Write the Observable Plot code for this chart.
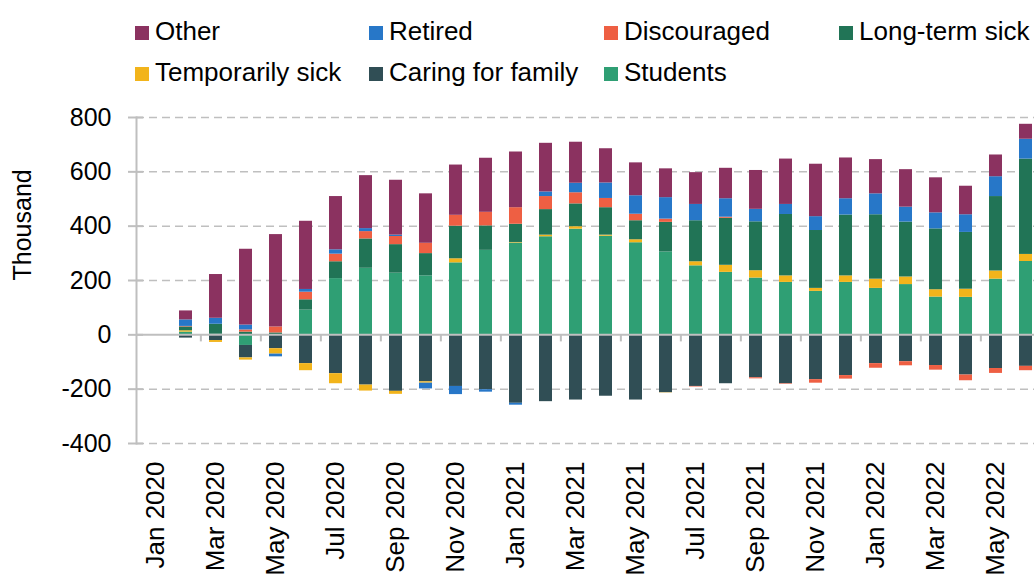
<!DOCTYPE html>
<html>
<head>
<meta charset="utf-8">
<script src="https://cdn.jsdelivr.net/npm/d3@7"></script>
<script src="https://cdn.jsdelivr.net/npm/@observablehq/plot@0.6"></script>
<style>
  html, body { margin: 0; padding: 0; background: #fff; overflow: hidden; }
  #wrap { position: relative; width: 1034px; height: 574px; overflow: hidden; font-family: "Liberation Sans", Arial, sans-serif; }
  #chart { position: absolute; left: 0; top: 0; }
  #chart svg { max-width: none !important; }
  .lg { position: absolute; font-size: 26px; line-height: 26px; color: #000; white-space: nowrap; }
  .sw { position: absolute; width: 14px; height: 14px; }
</style>
</head>
<body>
<div id="wrap"><div id="chart"></div></div>
<script>
const months = ["Jan 2020","Feb 2020","Mar 2020","Apr 2020","May 2020","Jun 2020","Jul 2020","Aug 2020","Sep 2020","Oct 2020","Nov 2020","Dec 2020",
  "Jan 2021","Feb 2021","Mar 2021","Apr 2021","May 2021","Jun 2021","Jul 2021","Aug 2021","Sep 2021","Oct 2021","Nov 2021","Dec 2021",
  "Jan 2022","Feb 2022","Mar 2022","Apr 2022","May 2022","Jun 2022"];
const seriesNames = ["Students","Caring for family","Temporarily sick","Long-term sick","Discouraged","Retired","Other"];
const seriesColors = ["#2f9f74","#304e55","#f2b41b","#217456","#ee5f43","#2777c8","#8b3260"];
const legendOrder = ["Other","Retired","Discouraged","Long-term sick","Temporarily sick","Caring for family","Students"];

const students     = [0, 10, 2, -39, 0, 91, 207, 245, 227, 217, 265, 311, 338, 361, 389, 363, 339, 305, 254, 230, 209, 193, 160, 193, 171, 185, 139, 138, 205, 270];
const caring       = [0, -12, -21, -46, -51, -106, -143, -185, -208, -173, -190, -202, -252, -246, -240, -226, -240, -213, -190, -180, -158, -180, -165, -150, -106, -99, -113, -148, -124, -116];
const tempSick     = [0, 5, -7, -8, -20, -26, -37, -22, -11, -5, 15, 0, 2, 6, 9, 4, 11, -1, 15, 26, 27, 24, 11, 24, 34, 28, 27, 30, 30, 26];
const longTermSick = [0, 14, 37, 10, 7, 38, 62, 108, 105, 82, 120, 90, 67, 94, 84, 101, 70, 109, 151, 173, 180, 226, 213, 224, 237, 202, 224, 209, 274, 351];
const discouraged  = [0, 2, 0, 8, 22, 28, 28, 27, 30, 38, 40, 50, 61, 48, 41, 34, 24, 12, -2, 4, -4, -2, -13, -13, -17, -15, -17, -21, -18, -16];
const retired      = [0, 24, 22, 18, -10, 10, 16, 11, 5, -21, -30, -9, -7, 17, 35, 57, 68, 79, 60, 68, 46, 37, 51, 60, 77, 55, 59, 65, 73, 73];
const other        = [0, 33, 161, 279, 340, 251, 196, 195, 202, 182, 185, 199, 205, 179, 151, 126, 121, 106, 117, 112, 143, 167, 193, 150, 126, 138, 129, 105, 80, 55];

const yTicks = [-400, -200, 0, 200, 400, 600, 800];
const gridTicks = [-400, -200, 200, 400, 600, 800];
const xLabelMonths = months.filter((_, i) => i % 2 === 0);
const boundaryMonths = months.filter((_, i) => i % 2 === 0 && i > 0);

const valueArrays = [students, caring, tempSick, longTermSick, discouraged, retired, other];
const data = [];
months.forEach((m, i) => {
  valueArrays.forEach((arr, k) => {
    if (arr[i] !== 0) data.push({month: m, series: seriesNames[k], value: arr[i]});
  });
});

const chart = Plot.plot({
  width: 1060,
  height: 574,
  marginTop: 117,
  marginBottom: 131,
  marginLeft: 136,
  marginRight: 15,
  style: {fontFamily: "'Liberation Sans', Arial, sans-serif", fontSize: "25px", color: "#000", background: "transparent", maxWidth: "none"},
  x: {domain: months, paddingInner: 0.58, paddingOuter: 0.29},
  y: {domain: [-400, 800]},
  color: {domain: seriesNames, range: seriesColors},
  marks: [
    Plot.ruleY(gridTicks, {stroke: "#bfbfbf", strokeWidth: 1.5, strokeDasharray: "8,5"}),
    Plot.barY(data, {x: "month", y: "value", fill: "series", order: seriesNames}),
    Plot.ruleY([0], {stroke: "#bfbfbf", strokeWidth: 2}),
    Plot.ruleX(boundaryMonths, {x: d => d, y1: 0, y2: -26, dx: -15.15, stroke: "#bfbfbf", strokeWidth: 2}),
    Plot.frame({anchor: "left", stroke: "#bfbfbf", strokeWidth: 2}),
    Plot.axisY(yTicks, {tickSize: 15, dx: 7, stroke: "#bfbfbf", strokeWidth: 2, tickFormat: () => "", label: null}),
    Plot.axisY(yTicks, {tickSize: 0, tickPadding: 25, fill: "#000", fontSize: 25, label: null, tickFormat: d => String(d)}),
    Plot.axisX(xLabelMonths, {tickSize: 0, tickRotate: -90, tickPadding: 18, fontSize: 26, fill: "#000", label: null}),
    Plot.text(["Thousand"], {frameAnchor: "left", rotate: -90, dx: -114, fontSize: 25, fill: "#000"})
  ]
});
document.getElementById("chart").appendChild(chart);

// legend
const wrap = document.getElementById("wrap");
const legendPos = {
  "Other": [135, 0], "Retired": [369, 0], "Discouraged": [604, 0], "Long-term sick": [839, 0],
  "Temporarily sick": [135, 1], "Caring for family": [369, 1], "Students": [604, 1]
};
legendOrder.forEach(name => {
  const [x, row] = legendPos[name];
  const sw = document.createElement("div");
  sw.className = "sw";
  sw.style.left = x + "px";
  sw.style.top = (row === 0 ? 26 : 67) + "px";
  sw.style.background = seriesColors[seriesNames.indexOf(name)];
  wrap.appendChild(sw);
  const t = document.createElement("div");
  t.className = "lg";
  t.style.left = (x + 20) + "px";
  t.style.top = (row === 0 ? 18 : 59) + "px";
  t.textContent = name;
  wrap.appendChild(t);
});
</script>
</body>
</html>
